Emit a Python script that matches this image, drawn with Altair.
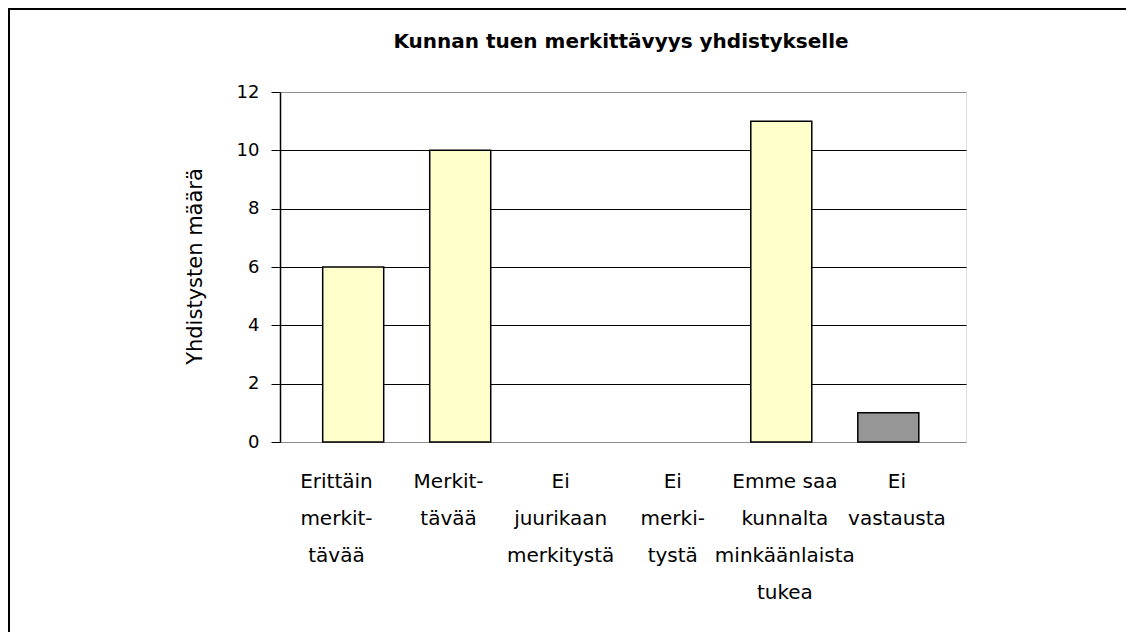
import altair as alt
import pandas as pd

title_text = "Kunnan tuen merkittävyys yhdistykselle"
y_title = "Yhdistysten määrä"
categories = [
    "Erittäin merkittävää",
    "Merkittävää",
    "Ei juurikaan merkitystä",
    "Ei merkitystä",
    "Emme saa kunnalta minkäänlaista tukea",
    "Ei vastausta",
]
label_lines = [
    "Erittäin\nmerkit-\ntävää",
    "Merkit-\ntävää",
    "Ei\njuurikaan\nmerkitystä",
    "Ei\nmerki-\ntystä",
    "Emme saa\nkunnalta\nminkäänlaista\ntukea",
    "Ei\nvastausta",
]
values = [6, 10, 0, 0, 11, 1]
fills = ["#FFFFCC", "#FFFFCC", "#FFFFCC", "#FFFFCC", "#FFFFCC", "#969696"]
y_ticks = [0, 2, 4, 6, 8, 10, 12]

df = pd.DataFrame({"cat": categories, "label": label_lines, "value": values, "fill": fills})

W, H = 686, 350

frame = alt.Chart(alt.Data(values=[{}])).mark_rect(
    filled=False, stroke="black", strokeWidth=2
).encode(
    x=alt.value(-271), x2=alt.value(1000), y=alt.value(-83), y2=alt.value(800)
)

title = alt.Chart(alt.Data(values=[{"t": title_text}])).mark_text(
    font="DejaVu Sans", fontSize=20, fontWeight="bold", color="black",
    align="center", baseline="middle"
).encode(x=alt.value(W / 2 - 2), y=alt.value(-50), text="t:N")

grid_color = {
    "condition": {"test": "datum.value == 0 || datum.value == 12", "value": "#8c8c8c"},
    "value": "black",
}

bars = alt.Chart(df).mark_bar(stroke="black", strokeWidth=1.5).encode(
    x=alt.X("cat:N", axis=None,
            scale=alt.Scale(type="band", domain=categories, paddingInner=0.43,
                            paddingOuter=0.42, align=0.475)),
    y=alt.Y("value:Q", scale=alt.Scale(domain=[0, 12], nice=False),
            axis=alt.Axis(values=y_ticks, title=y_title,
                          titleFont="DejaVu Sans", titleFontSize=21, titleFontWeight="normal",
                          titleColor="black", titleAngle=-90, titleX=-85, titleY=H / 2 - 1,
                          titleAlign="center", titleBaseline="middle",
                          labelFont="DejaVu Sans", labelFontSize=18, labelColor="black",
                          labelPadding=12, tickSize=9, tickColor="black",
                          domainColor="black", domainWidth=1.5,
                          grid=True, gridColor=grid_color, gridWidth=1)),
    color=alt.Color("fill:N", scale=None),
).transform_filter("datum.value > 0")

labels = alt.Chart(df).mark_text(
    font="DejaVu Sans", fontSize=20, baseline="top", align="center",
    lineBreak="\n", lineHeight=37, color="black"
).encode(
    x=alt.X("cat:N", axis=None,
            scale=alt.Scale(type="point", domain=categories, padding=0.56, align=0.45)),
    y=alt.value(H + 30),
    text="label:N",
)

chart = alt.layer(frame, title, bars, labels).resolve_scale(x="independent").properties(
    width=W, height=H,
    autosize=alt.AutoSizeParams(type="none"),
    padding={"left": 272, "top": 84, "right": 160, "bottom": 190},
).configure_view(stroke="#8c8c8c", strokeWidth=2).configure(background="white")

chart.save("out.html", embed_options={"renderer": "svg", "actions": False})
